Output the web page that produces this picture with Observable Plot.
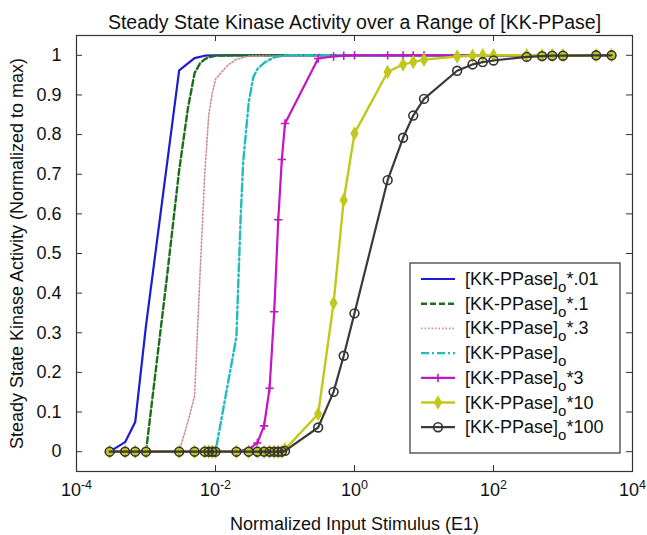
<!DOCTYPE html>
<html>
<head>
<meta charset="utf-8">
<script src="https://cdn.jsdelivr.net/npm/d3@7"></script>
<script src="https://cdn.jsdelivr.net/npm/@observablehq/plot@0.6"></script>
<style>
  body { margin: 0; background: #fff; }
  #chart svg { display: block; }
</style>
</head>
<body>
<div id="chart"></div>
<script>
// Stimulus grid shared by the marked series (normalized E1)
const stimulus = [3e-4, 5e-4, 7e-4, 1e-3, 3e-3, 5e-3, 7e-3, 8e-3, 9e-3, 1e-2,
  2e-2, 3e-2, 4e-2, 5e-2, 6e-2, 7e-2, 8e-2, 9e-2, 0.1, 0.3, 0.5, 0.7, 1,
  3, 5, 7, 10, 30, 50, 70, 100, 300, 500, 700, 1000, 3000, 5000];

// [KK-PPase]o * 100
const activityX100 = [0, 0, 0, 0, 0, 0, 0, 0, 0, 0, 0, 0, 0, 0, 0, 0, 0, 0,
  0.002, 0.061, 0.151, 0.242, 0.349, 0.685, 0.792, 0.848, 0.890, 0.961, 0.977,
  0.983, 0.987, 0.996, 0.998, 0.999, 0.999, 1, 1];

// [KK-PPase]o * 10
const activityX10 = [0, 0, 0, 0, 0, 0, 0, 0, 0, 0, 0, 0, 0, 0, 0, 0, 0, 0,
  0.006, 0.095, 0.375, 0.635, 0.803, 0.958, 0.977, 0.983, 0.989, 0.997, 0.999,
  1, 1, 1, 1, 1, 1, 1, 1];

// [KK-PPase]o * 3
const activityX3 = [0, 0, 0, 0, 0, 0, 0, 0, 0, 0,
  0.001, 0.006, 0.022, 0.065, 0.160, 0.353, 0.585, 0.737, 0.828,
  0.992, 0.997, 0.999, 1, 1, 1, 1, 1, 1, 1, 1, 1, 1, 1, 1, 1, 1, 1];

// [KK-PPase]o
const stimulusX1 = [3e-4, 1e-2, 2e-2, 2.3e-2, 2.5e-2, 3e-2, 3.5e-2, 4e-2, 5e-2, 7e-2, 0.1, 5000];
const activityX1 = [0, 0, 0.29, 0.59, 0.73, 0.88, 0.945, 0.965, 0.981, 0.995, 1, 1];

// [KK-PPase]o * .3
const stimulusX03 = [3e-4, 3e-3, 4e-3, 5e-3, 6e-3, 7e-3, 8e-3, 9e-3, 1e-2, 1.5e-2, 2e-2, 3e-2, 5000];
const activityX03 = [0, 0, 0.075, 0.14, 0.45, 0.70, 0.85, 0.905, 0.94, 0.975, 0.99, 0.998, 1];

// [KK-PPase]o * .1
const stimulusX01 = [3e-4, 1e-3, 2e-3, 3e-3, 4e-3, 5e-3, 6e-3, 7e-3, 8e-3, 1e-2, 2e-2, 5000];
const activityX01 = [0, 0, 0.44, 0.71, 0.865, 0.955, 0.98, 0.99, 0.995, 0.999, 1, 1];

// [KK-PPase]o * .01
const stimulusX001 = [3e-4, 5e-4, 7e-4, 1e-3, 3e-3, 5e-3, 7e-3, 1e-2, 5000];
const activityX001 = [0, 0.024, 0.075, 0.318, 0.962, 0.993, 0.999, 1, 1];

const legendBase = "[KK-PPase]";
const legendSub = "o";
const legendSuffixes = ["*.01", "*.1", "*.3", "", "*3", "*10", "*100"];

const xTicks = [1e-4, 1e-2, 1, 1e2, 1e4];
const yTicks = [0, 0.1, 0.2, 0.3, 0.4, 0.5, 0.6, 0.7, 0.8, 0.9, 1];

const titleText = "Steady State Kinase Activity over a Range of [KK-PPase]";
const xLabel = "Normalized Input Stimulus (E1)";
const yLabel = "Steady State Kinase Activity (Normalized to max)";

// ---- layout & styling ----
const W = 647, H = 535;
const M = {top: 35, right: 15, bottom: 64, left: 76};
const innerW = W - M.left - M.right;
const innerH = H - M.top - M.bottom;
const FONT = "'Liberation Sans', Arial, Helvetica, sans-serif";
const AXIS = "#333";

const table = (xs, ys) => xs.map((x, i) => ({x, y: ys[i]}));

const series = [
  {data: table(stimulusX001, activityX001), color: "#1c1cd0", width: 2.2, dash: null},
  {data: table(stimulusX01, activityX01), color: "#1f6e1f", width: 2.4, dash: "6,3"},
  {data: table(stimulusX03, activityX03), color: "#cf8f8f", width: 1.6, dash: "1.5,2"},
  {data: table(stimulusX1, activityX1), color: "#22bcbc", width: 2.4, dash: "8,3,2,3"},
  {data: table(stimulus, activityX3), color: "#c414c4", width: 2.2, dash: null,
    symbol: "plus", r: 2.8, fill: "none", markStroke: "#c414c4"},
  {data: table(stimulus, activityX10), color: "#c2c81a", width: 2.4, dash: null,
    symbol: "diamond", r: 3.4, fill: "#c2c81a", markStroke: "#c2c81a"},
  {data: table(stimulus, activityX100), color: "#3a3a3a", width: 2.2, dash: null,
    symbol: "circle", r: 4.4, fill: "none", markStroke: "#333"}
];

const seriesMarks = series.flatMap(s => {
  const marks = [Plot.line(s.data, {x: "x", y: "y", stroke: s.color, strokeWidth: s.width,
    strokeDasharray: s.dash ?? undefined})];
  if (s.symbol) marks.push(Plot.dot(s.data, {x: "x", y: "y", symbol: s.symbol, r: s.r,
    fill: s.fill, stroke: s.markStroke, strokeWidth: 1.6}));
  return marks;
});

const chart = Plot.plot({
  width: W,
  height: H,
  marginTop: M.top,
  marginRight: M.right,
  marginBottom: M.bottom,
  marginLeft: M.left,
  style: {fontFamily: FONT, fontSize: "18px", color: "#111", background: "#fff"},
  x: {type: "log", domain: [1e-4, 1e4]},
  y: {domain: [-0.05, 1.05]},
  marks: [
    ...seriesMarks,
    Plot.frame({stroke: AXIS, strokeWidth: 1.2}),
    // inward tick marks on all four sides
    Plot.tickX(xTicks, {x: d => d, insetTop: innerH - 6, stroke: AXIS}),
    Plot.tickX(xTicks, {x: d => d, insetBottom: innerH - 6, stroke: AXIS}),
    Plot.tickY(yTicks, {y: d => d, insetRight: innerW - 6, stroke: AXIS}),
    Plot.tickY(yTicks, {y: d => d, insetLeft: innerW - 6, stroke: AXIS}),
    Plot.axisX({ticks: xTicks, tickSize: 0, tickPadding: 12,
      tickFormat: d => "10^" + Math.round(Math.log10(d)),
      label: xLabel, labelAnchor: "center", labelArrow: "none", labelOffset: 58, fontSize: 18}),
    Plot.axisY({ticks: yTicks, tickSize: 0, tickPadding: 15, tickFormat: d => String(d),
      label: yLabel, labelAnchor: "center", labelArrow: "none", labelOffset: 66, fontSize: 18}),
    Plot.text([titleText], {frameAnchor: "top", dy: -20, fontSize: 19.5, fill: "#111"})
  ]
});

document.getElementById("chart").appendChild(chart);

// Power-of-ten tick labels: "10" with a raised exponent
d3.select(chart).selectAll('[aria-label="x-axis tick label"] text').each(function () {
  const t = d3.select(this);
  const [base, exp] = t.text().split("^");
  t.text(null);
  t.append("tspan").text(base);
  t.append("tspan").attr("dy", "-0.55em").attr("font-size", "12.5px").text(exp);
});

// Legend box inside the lower-right of the axes
const legend = d3.select(chart).append("g")
  .attr("font-family", FONT).attr("font-size", 18).attr("fill", "#111")
  .attr("text-anchor", "start");
const box = {x: 410, y: 263, w: 210, h: 190, row0: 279, step: 24.7};
legend.append("rect")
  .attr("x", box.x).attr("y", box.y).attr("width", box.w).attr("height", box.h)
  .attr("fill", "#fff").attr("stroke", AXIS).attr("stroke-width", 1.2);

const symbolTypes = {plus: d3.symbolPlus, diamond: d3.symbolDiamond, circle: d3.symbolCircle};
series.forEach((s, i) => {
  const cy = box.row0 + i * box.step;
  const g = legend.append("g");
  g.append("line")
    .attr("x1", box.x + 11).attr("x2", box.x + 45).attr("y1", cy).attr("y2", cy)
    .attr("stroke", s.color).attr("stroke-width", s.width)
    .attr("stroke-dasharray", s.dash);
  if (s.symbol) {
    g.append("path")
      .attr("transform", `translate(${box.x + 28},${cy})`)
      .attr("d", d3.symbol(symbolTypes[s.symbol], Math.PI * s.r * s.r)())
      .attr("fill", s.fill).attr("stroke", s.markStroke).attr("stroke-width", 1.6);
  }
  const txt = g.append("text").attr("x", box.x + 55).attr("y", cy + 6);
  txt.append("tspan").text(legendBase);
  txt.append("tspan").attr("dy", 7).attr("font-size", 15).text(legendSub);
  if (legendSuffixes[i]) txt.append("tspan").attr("dy", -7).text(legendSuffixes[i]);
});
</script>
</body>
</html>
